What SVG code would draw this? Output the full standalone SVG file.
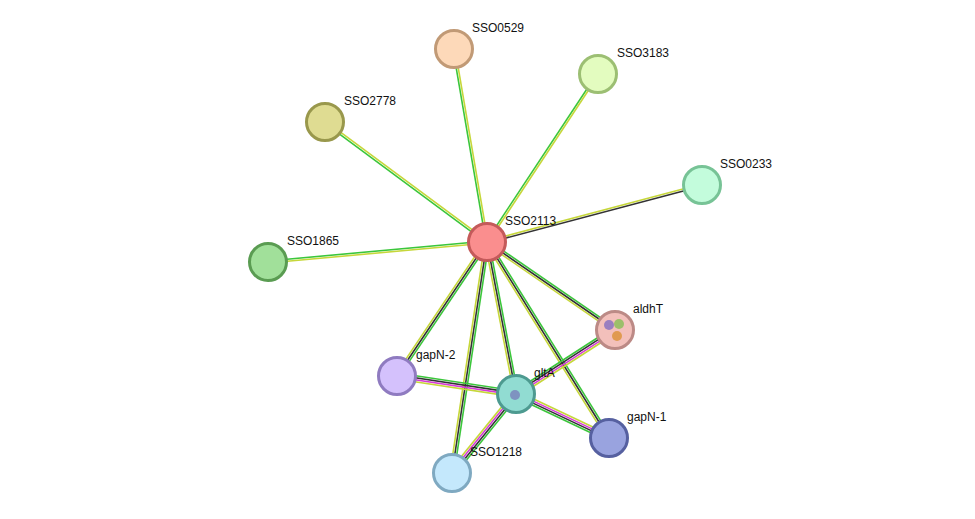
<svg xmlns="http://www.w3.org/2000/svg" width="975" height="519" viewBox="0 0 975 519">
<style>
line{stroke-width:1.6}
.g{stroke:#3bc63b}.y{stroke:#c6d73a}.k{stroke:#333}.m{stroke:#d63ad6}
circle{stroke-width:3}
text{font-family:"Liberation Sans",Arial,sans-serif;font-size:12px;fill:#111}
</style>
<rect width="975" height="519" fill="#fff"/>
<g id="connectors">
<line class="g" x1="487" y1="242" x2="454" y2="49" transform="translate(-1,0.17)"/>
<line class="y" x1="487" y1="242" x2="454" y2="49" transform="translate(1,-0.17)"/>
<line class="g" x1="487" y1="242" x2="598" y2="74" transform="translate(-0.83,-0.55)"/>
<line class="y" x1="487" y1="242" x2="598" y2="74" transform="translate(0.83,0.55)"/>
<line class="g" x1="487" y1="242" x2="325" y2="122" transform="translate(-0.6,0.8)"/>
<line class="y" x1="487" y1="242" x2="325" y2="122" transform="translate(0.6,-0.8)"/>
<line class="y" x1="487" y1="242" x2="702" y2="185" transform="translate(-0.26,-0.97)"/>
<line class="k" x1="487" y1="242" x2="702" y2="185" transform="translate(0.26,0.97)"/>
<line class="g" x1="487" y1="242" x2="268" y2="262" transform="translate(-0.09,-1)"/>
<line class="y" x1="487" y1="242" x2="268" y2="262" transform="translate(0.09,1)"/>
<line class="g" x1="487" y1="242" x2="615" y2="330" transform="translate(1.14,-1.65)"/>
<line class="k" x1="487" y1="242" x2="615" y2="330"/>
<line class="y" x1="487" y1="242" x2="615" y2="330" transform="translate(-1.14,1.65)"/>
<line class="g" x1="487" y1="242" x2="397" y2="376" transform="translate(1.66,1.12)"/>
<line class="k" x1="487" y1="242" x2="397" y2="376"/>
<line class="y" x1="487" y1="242" x2="397" y2="376" transform="translate(-1.66,-1.12)"/>
<line class="g" x1="487" y1="242" x2="516" y2="394" transform="translate(1.96,-0.37)"/>
<line class="k" x1="487" y1="242" x2="516" y2="394"/>
<line class="y" x1="487" y1="242" x2="516" y2="394" transform="translate(-1.96,0.37)"/>
<line class="g" x1="487" y1="242" x2="609" y2="438" transform="translate(1.7,-1.06)"/>
<line class="k" x1="487" y1="242" x2="609" y2="438"/>
<line class="y" x1="487" y1="242" x2="609" y2="438" transform="translate(-1.7,1.06)"/>
<line class="g" x1="487" y1="242" x2="452" y2="473" transform="translate(1.98,0.3)"/>
<line class="k" x1="487" y1="242" x2="452" y2="473"/>
<line class="y" x1="487" y1="242" x2="452" y2="473" transform="translate(-1.98,-0.3)"/>
<line class="g" x1="516" y1="394" x2="615" y2="330" transform="translate(-1.63,-2.52)"/>
<line class="k" x1="516" y1="394" x2="615" y2="330" transform="translate(-0.54,-0.84)"/>
<line class="m" x1="516" y1="394" x2="615" y2="330" transform="translate(0.54,0.84)"/>
<line class="y" x1="516" y1="394" x2="615" y2="330" transform="translate(1.63,2.52)"/>
<line class="g" x1="516" y1="394" x2="397" y2="376" transform="translate(0.45,-2.97)"/>
<line class="k" x1="516" y1="394" x2="397" y2="376" transform="translate(0.15,-0.99)"/>
<line class="m" x1="516" y1="394" x2="397" y2="376" transform="translate(-0.15,0.99)"/>
<line class="y" x1="516" y1="394" x2="397" y2="376" transform="translate(-0.45,2.97)"/>
<line class="y" x1="516" y1="394" x2="609" y2="438" transform="translate(1.28,-2.7)"/>
<line class="m" x1="516" y1="394" x2="609" y2="438" transform="translate(0.43,-0.9)"/>
<line class="k" x1="516" y1="394" x2="609" y2="438" transform="translate(-0.43,0.9)"/>
<line class="g" x1="516" y1="394" x2="609" y2="438" transform="translate(-1.28,2.7)"/>
<line class="g" x1="516" y1="394" x2="452" y2="473" transform="translate(2.33,1.89)"/>
<line class="k" x1="516" y1="394" x2="452" y2="473" transform="translate(0.78,0.63)"/>
<line class="m" x1="516" y1="394" x2="452" y2="473" transform="translate(-0.78,-0.63)"/>
<line class="y" x1="516" y1="394" x2="452" y2="473" transform="translate(-2.33,-1.89)"/>
</g>
<g id="SSO0529"><circle cx="454" cy="49" r="18.5" fill="#fdd9b9" stroke="#c19a76"/><text x="472" y="32">SSO0529</text></g>
<g id="SSO3183"><circle cx="598" cy="74" r="18.5" fill="#e3fcbf" stroke="#9cbf73"/><text x="617" y="57">SSO3183</text></g>
<g id="SSO2778"><circle cx="325" cy="122" r="18.5" fill="#dfdc92" stroke="#99984c"/><text x="344" y="105">SSO2778</text></g>
<g id="SSO0233"><circle cx="702" cy="185" r="18.5" fill="#c3fcdc" stroke="#77c396"/><text x="720" y="168">SSO0233</text></g>
<g id="SSO1865"><circle cx="268" cy="262" r="18.5" fill="#a1e09a" stroke="#5a9c52"/><text x="287" y="245">SSO1865</text></g>
<g id="SSO2113"><circle cx="487" cy="242" r="18.5" fill="#fa8e8e" stroke="#c45a5a"/><text x="505" y="225">SSO2113</text></g>
<g id="aldhT"><circle cx="615" cy="330" r="18.5" fill="#f3c0bb" stroke="#bc8a86"/><circle cx="609" cy="325" r="5" fill="#9a7fc0" stroke="none"/><circle cx="619" cy="324" r="5" fill="#9cbf6a" stroke="none"/><circle cx="617" cy="336" r="5" fill="#e09a50" stroke="none"/><text x="633" y="313">aldhT</text></g>
<g id="gapN-2"><circle cx="397" cy="376" r="18.5" fill="#d4c1fc" stroke="#8f7bc0"/><text x="416" y="359">gapN-2</text></g>
<g id="gltA"><circle cx="516" cy="394" r="18.5" fill="#91dcd2" stroke="#4d9a90"/><circle cx="515" cy="395" r="5" fill="#7e93c0" stroke="none"/><text x="534" y="377">gltA</text></g>
<g id="gapN-1"><circle cx="609" cy="438" r="18.5" fill="#99a3df" stroke="#5660a0"/><text x="627" y="421">gapN-1</text></g>
<g id="SSO1218"><circle cx="452" cy="473" r="18.5" fill="#c4e8fc" stroke="#7fa9c1"/><text x="470" y="456">SSO1218</text></g>
</svg>
